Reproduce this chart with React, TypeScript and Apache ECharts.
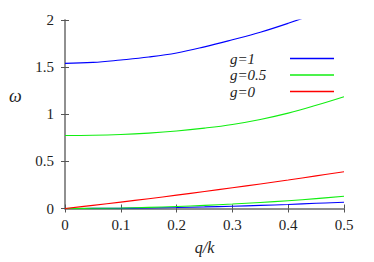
import React, { useEffect, useRef } from "react";
import * as echarts from "echarts";

const qValues = [0, 0.05, 0.1, 0.15, 0.2, 0.25, 0.3, 0.35, 0.4, 0.45, 0.5];
const g1Upper = [1.54, 1.55, 1.576, 1.607, 1.65, 1.715, 1.79, 1.87, 1.965, 2.07, 2.19];
const g1Lower = [0, 0.001, 0.003, 0.006, 0.011, 0.017, 0.024, 0.033, 0.043, 0.055, 0.066];
const g05Upper = [0.775, 0.777, 0.785, 0.8, 0.822, 0.853, 0.892, 0.945, 1.012, 1.095, 1.186];
const g05Lower = [0, 0.002, 0.005, 0.012, 0.021, 0.033, 0.047, 0.064, 0.083, 0.105, 0.13];
const g0 = [0, 0.033, 0.068, 0.104, 0.142, 0.18, 0.22, 0.26, 0.302, 0.346, 0.39];
const legendNames = ["g=1", "g=0.5", "g=0"];

const BLUE = "#0000ff";
const GREEN = "#11ee11";
const RED = "#ff0000";
const SERIF = "'Liberation Serif', 'Times New Roman', serif";

const pair = (ys: number[]) => qValues.map((q, i) => [q, ys[i]]);

export default function App() {
  const ref = useRef<HTMLDivElement>(null);
  useEffect(() => {
    const chart = echarts.init(ref.current!, null, { renderer: "svg" });
    const axisLine = { show: true, lineStyle: { color: "#888", width: 1.5 } };
    const axisTick = { show: true, inside: true, length: 4, lineStyle: { color: "#555", width: 1 } };
    const line = (name: string, color: string, ys: number[]) => ({
      type: "line",
      name,
      data: pair(ys),
      smooth: 0.4,
      symbol: "none",
      clip: true,
      lineStyle: { color, width: 1.1 },
      itemStyle: { color },
    });
    chart.setOption({
      animation: false,
      textStyle: { fontFamily: SERIF },
      grid: { left: 65, top: 20, right: 30, bottom: 53.5 },
      legend: {
        data: legendNames,
        orient: "vertical",
        align: "right",
        left: 225,
        top: 46,
        itemWidth: 44,
        itemHeight: 12,
        itemGap: 1.5,
        icon: "path://M0,0 L44,0 L44,1.3 L0,1.3 Z",
        formatter: "{t|{name}}",
        textStyle: {
          fontFamily: SERIF,
          rich: {
            t: {
              fontFamily: SERIF,
              fontStyle: "italic",
              fontSize: 15,
              lineHeight: 15,
              color: "#222",
              width: 55,
              align: "left",
            },
          },
        },
      },
      xAxis: [
        {
          type: "value",
          min: 0,
          max: 0.5,
          interval: 0.1,
          axisLine,
          axisTick,
          splitLine: { show: false },
          axisLabel: { fontFamily: SERIF, fontSize: 15, color: "#222", margin: 9 },
          name: "q/k",
          nameLocation: "middle",
          nameGap: 31,
          nameTextStyle: { fontFamily: SERIF, fontStyle: "italic", fontSize: 16, color: "#222" },
        },
        {
          type: "value",
          position: "top",
          min: 0,
          max: 0.5,
          interval: 0.1,
          axisLine,
          axisTick,
          splitLine: { show: false },
          axisLabel: { show: false },
        },
      ],
      yAxis: [
        {
          type: "value",
          min: 0,
          max: 2,
          interval: 0.5,
          axisLine,
          axisTick,
          splitLine: { show: false },
          axisLabel: { fontFamily: SERIF, fontSize: 15, color: "#222", margin: 11 },
        },
        {
          type: "value",
          position: "right",
          min: 0,
          max: 2,
          interval: 0.5,
          axisLine,
          axisTick,
          splitLine: { show: false },
          axisLabel: { show: false },
        },
      ],
      graphic: [
        {
          type: "text",
          left: 9,
          top: 87,
          style: { text: "ω", fontFamily: SERIF, fontStyle: "italic", fontSize: 18, fill: "#222" },
        },
      ],
      series: [
        line("g=1", BLUE, g1Upper),
        line("g=1", BLUE, g1Lower),
        line("g=0.5", GREEN, g05Upper),
        line("g=0.5", GREEN, g05Lower),
        line("g=0", RED, g0),
      ],
    });
    return () => chart.dispose();
  }, []);
  return (
    <div
      ref={ref}
      style={{ position: "fixed", left: 0, top: 0, width: 374, height: 262, background: "#fff" }}
    />
  );
}
